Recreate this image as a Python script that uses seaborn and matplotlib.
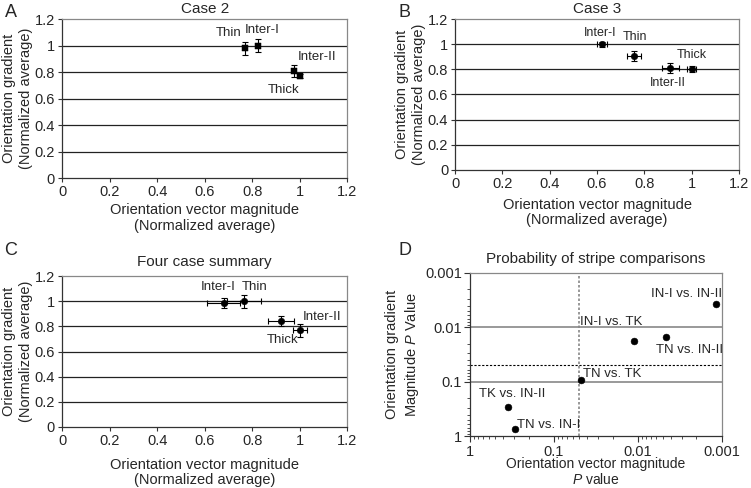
import numpy as np
import matplotlib
matplotlib.use("Agg")
import matplotlib.pyplot as plt
import matplotlib.ticker as mticker
import seaborn as sns
import pandas as pd

# ---- data ----
stripes_a = ["Thin", "Inter-I", "Inter-II", "Thick"]
vec_a = [0.77, 0.825, 0.975, 1.0]
grad_a = [0.98, 1.0, 0.805, 0.77]
grad_err_a = [0.05, 0.05, 0.045, 0.012]

stripes_b = ["Inter-I", "Thin", "Inter-II", "Thick"]
vec_b = [0.62, 0.755, 0.91, 1.0]
grad_b = [1.0, 0.905, 0.81, 0.80]
vec_err_b = [0.02, 0.03, 0.035, 0.02]
grad_err_b = [0.02, 0.04, 0.04, 0.025]

stripes_c = ["Inter-I", "Thin", "Inter-II", "Thick"]
vec_c = [0.68, 0.765, 0.92, 1.0]
grad_c = [0.985, 1.0, 0.845, 0.77]
vec_err_c = [0.07, 0.07, 0.055, 0.03]
grad_err_c = [0.04, 0.05, 0.04, 0.05]

pairs_d = ["IN-I vs. IN-II", "IN-I vs. TK", "TN vs. IN-II",
           "TN vs. TK", "TK vs. IN-II", "TN vs. IN-I"]
p_vec_d = [0.00118, 0.0112, 0.0046, 0.048, 0.352, 0.291]
p_grad_d = [0.0037, 0.0175, 0.0152, 0.093, 0.288, 0.727]

ticks_lin = [0, 0.2, 0.4, 0.6, 0.8, 1.0, 1.2]
ticks_log = [1, 0.1, 0.01, 0.001]
sig_level = 0.05

sns.set_theme(style="ticks")
plt.rcParams['font.family'] = ['Liberation Sans', 'DejaVu Sans']
plt.rcParams['mathtext.fontset'] = 'custom'
plt.rcParams['mathtext.it'] = 'Liberation Sans:italic'
plt.rcParams['mathtext.rm'] = 'Liberation Sans'

fig = plt.figure(figsize=(7.51, 4.88), dpi=100)

ax_a = fig.add_axes([0.0826, 0.635, 0.380, 0.326])
ax_b = fig.add_axes([0.606, 0.652, 0.378, 0.309])
ax_c = fig.add_axes([0.0826, 0.125, 0.380, 0.309])
ax_d = fig.add_axes([0.626, 0.106, 0.335, 0.335])

def fmt(v, pos):
    return "{:g}".format(v)

def style_linear(ax, title, ypad, xpad, tpad):
    ax.set_xlim(0, 1.2)
    ax.set_ylim(0, 1.2)
    ax.set_xticks(ticks_lin)
    ax.set_yticks(ticks_lin)
    ax.xaxis.set_major_formatter(mticker.FuncFormatter(fmt))
    ax.yaxis.set_major_formatter(mticker.FuncFormatter(fmt))
    for y in ticks_lin[1:-1]:
        ax.axhline(y, color="#222222", lw=0.9, zorder=1)
    for s in ["top", "right"]:
        ax.spines[s].set_color("#888888")
        ax.spines[s].set_linewidth(0.9)
    for s in ["left", "bottom"]:
        ax.spines[s].set_color("#333333")
        ax.spines[s].set_linewidth(0.9)
    ax.tick_params(labelsize=10.5, length=3, width=0.8, color="#333333", pad=2)
    ax.set_title(title, fontsize=11, pad=tpad)
    ax.set_xlabel("Orientation vector magnitude\n(Normalized average)", fontsize=10.5,
                  labelpad=xpad, linespacing=1.15)
    ax.set_ylabel("Orientation gradient\n(Normalized average)", fontsize=10.5,
                  labelpad=ypad, linespacing=1.3)

def draw_points(ax, x, y, xerr, yerr, marker, ms):
    df = pd.DataFrame({"x": x, "y": y})
    ax.errorbar(x, y, xerr=xerr, yerr=yerr, fmt="none", ecolor="black",
                elinewidth=0.8, capsize=2, capthick=0.8, zorder=3)
    sns.scatterplot(data=df, x="x", y="y", ax=ax, marker=marker, s=ms,
                    color="black", edgecolor="black", zorder=4)

# A
draw_points(ax_a, vec_a, grad_a, None, grad_err_a, "s", 20)
style_linear(ax_a, "Case 2", 1, 3, 4)
lab_a = {"Thin": (0.70, 1.094), "Inter-I": (0.842, 1.117),
         "Inter-II": (1.074, 0.913), "Thick": (0.93, 0.664)}
for name in stripes_a:
    ax_a.text(*lab_a[name], name, fontsize=9.5, ha="center", va="center")

# B
draw_points(ax_b, vec_b, grad_b, vec_err_b, grad_err_b, "o", 22)
style_linear(ax_b, "Case 3", 1, 5, 4)
lab_b = {"Inter-I": (0.615, 1.089), "Thin": (0.76, 1.057),
         "Inter-II": (0.9, 0.691), "Thick": (1.001, 0.914)}
for name in stripes_b:
    ax_b.text(*lab_b[name], name, fontsize=9, ha="center", va="center")

# C
draw_points(ax_c, vec_c, grad_c, vec_err_c, grad_err_c, "o", 22)
style_linear(ax_c, "Four case summary", 1, 7, 7)
lab_c = {"Inter-I": (0.657, 1.113), "Thin": (0.81, 1.113),
         "Inter-II": (1.094, 0.874), "Thick": (0.926, 0.691)}
for name in stripes_c:
    ax_c.text(*lab_c[name], name, fontsize=9.5, ha="center", va="center")

# D
df_d = pd.DataFrame({"vec": p_vec_d, "grad": p_grad_d, "pair": pairs_d})
ax_d.set_xscale("log")
ax_d.set_yscale("log")
sns.scatterplot(data=df_d, x="vec", y="grad", ax=ax_d, s=24, color="black",
                edgecolor="black", zorder=4)
ax_d.set_xlim(1, 0.001)
ax_d.set_ylim(1, 0.001)
ax_d.set_xticks(ticks_log)
ax_d.set_yticks(ticks_log)
ax_d.xaxis.set_major_formatter(mticker.FuncFormatter(fmt))
ax_d.yaxis.set_major_formatter(mticker.FuncFormatter(fmt))
for y in [0.1, 0.01]:
    ax_d.axhline(y, color="#888888", lw=1.2, zorder=1)
ax_d.axhline(sig_level, color="black", lw=0.8, ls=(0, (2, 1.5)), zorder=1)
ax_d.axvline(sig_level, color="#888888", lw=1.2, ls=(0, (1.5, 1.2)), zorder=1)
for s in ["top", "right"]:
    ax_d.spines[s].set_color("#888888")
    ax_d.spines[s].set_linewidth(0.9)
for s in ["left", "bottom"]:
    ax_d.spines[s].set_color("#333333")
    ax_d.spines[s].set_linewidth(0.9)
ax_d.tick_params(which="major", labelsize=10.5, length=4, width=0.8, color="#333333", pad=2)
ax_d.tick_params(which="minor", length=2, width=0.6, color="#333333")
ax_d.set_title("Probability of stripe comparisons", fontsize=11, pad=7)
ax_d.set_xlabel("Orientation vector magnitude\n$\\it{P}$ value", fontsize=10,
                labelpad=-1, linespacing=1.05)
ax_d.set_ylabel("Orientation gradient\nMagnitude $\\it{P}$ Value", fontsize=10.5,
                labelpad=3, linespacing=1.3)
lab_d = {"IN-I vs. IN-II": (0.00262, 0.00245), "IN-I vs. TK": (0.021, 0.0079),
         "TN vs. IN-II": (0.00245, 0.0257), "TN vs. TK": (0.0201, 0.0724),
         "TK vs. IN-II": (0.318, 0.166), "TN vs. IN-I": (0.116, 0.616)}
for name in pairs_d:
    ax_d.text(*lab_d[name], name, fontsize=9.5, ha="center", va="center")

# panel letters
for letter, (x, y) in {"A": (0.006, 0.975), "B": (0.53, 0.975),
                       "C": (0.006, 0.486), "D": (0.53, 0.486)}.items():
    fig.text(x, y, letter, fontsize=13, ha="left", va="center")

fig.savefig("out.png", dpi=100)
